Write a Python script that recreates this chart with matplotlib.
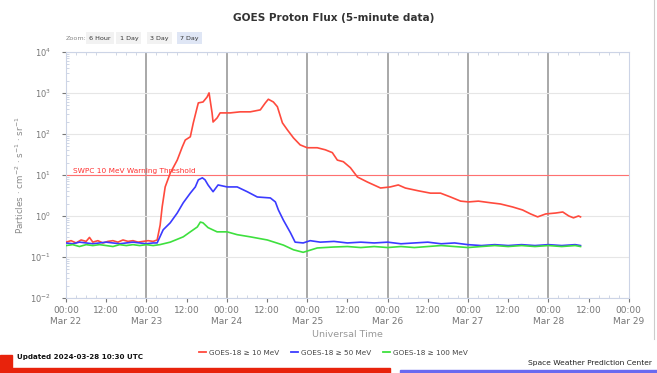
import matplotlib
matplotlib.use('Agg')
import matplotlib.pyplot as plt
from matplotlib.lines import Line2D
from matplotlib.patches import Rectangle
from matplotlib.ticker import MultipleLocator, LogLocator, NullFormatter

# hours since 2024-03-22 00:00 UTC, flux in pfu
red_t = [0, 1.5, 3, 4.5, 6, 7, 8, 9.5, 11, 12.5, 14, 15.5, 17, 18.5, 20, 21.5, 23, 24.5, 26, 27.2,
         28.1, 28.7, 29.6, 31.1, 33.2, 34.7, 35.6, 37.1, 38.0, 39.2,
         39.5, 40.9, 42.1, 42.7, 43.6, 43.9, 45.1, 46.0, 49.0, 52.0,
         55.0, 58.0, 59.5, 60.4, 61.9, 63.1, 64.6, 66.1, 67.9, 69.9,
         72.0, 75.0, 77.4, 79.5, 81.0, 82.8, 84.9, 87.0, 90.0, 93.9,
         96.8, 99.2, 101.3, 105.2, 108.8, 111.8, 114.8, 117.8, 120.2, 123.1,
         126.7, 129.7, 133.3, 136.3, 138.7, 140.8, 143.2, 146.2, 148.3, 150.1,
         151.5, 153.0, 153.6]
red_v = [0.23, 0.25, 0.22, 0.26, 0.24, 0.30, 0.23, 0.25, 0.22, 0.24, 0.25, 0.23, 0.26, 0.24, 0.25, 0.23, 0.24, 0.25, 0.24, 0.26,
         0.6, 1.66, 5.1, 11, 23, 48, 71, 85, 186, 460,
         570, 600, 790, 1000, 325, 195, 245, 325, 325, 345,
         345, 385, 570, 700, 600, 460, 186, 125, 80, 54,
         46, 46, 41, 35, 23, 21, 15, 8.9, 6.7, 4.8,
         5.1, 5.7, 4.8, 4.1, 3.6, 3.6, 2.9, 2.3, 2.2, 2.3,
         2.1, 1.96, 1.66, 1.4, 1.12, 0.95, 1.12, 1.18, 1.25, 1.0,
         0.9, 1.0, 0.95]

blue_t = [0, 2, 4, 6, 8, 10, 12, 14, 16, 18, 20, 22, 24, 26,
          27.2, 29.0, 31.1, 33.2, 35.0, 37.1, 38.6, 39.5, 40.7, 41.5,
          42.4, 43.9, 45.4, 48.1, 51.1, 54.1, 57.1, 61.0, 62.5, 63.4,
          64.9, 67.0, 68.4, 70.8, 72.9, 75.9,
          80, 84, 88, 92, 96, 100, 104, 108, 112, 116, 120, 124, 128, 132,
          136, 140, 144, 148, 152, 153.6]
blue_v = [0.22, 0.21, 0.23, 0.22, 0.21, 0.22, 0.23, 0.22, 0.21, 0.22, 0.23, 0.22, 0.21, 0.22,
          0.22, 0.46, 0.68, 1.18, 2.1, 3.6, 5.1, 7.6, 8.5, 7.6,
          5.7, 3.9, 5.7, 5.1, 5.1, 3.9, 2.9, 2.75, 2.2, 1.4,
          0.79, 0.39, 0.23, 0.22, 0.25, 0.23,
          0.24, 0.22, 0.23, 0.22, 0.23, 0.21, 0.22, 0.23, 0.21, 0.22, 0.20, 0.19, 0.20, 0.19,
          0.20, 0.19, 0.20, 0.19, 0.20, 0.19]

green_t = [0, 2, 4, 6, 8, 10, 12, 14, 16, 18, 20, 22, 24, 26, 28,
           31.1, 35.0, 37.1, 39.2, 40.1, 40.9, 42.4, 45.1, 48.1, 51.1,
           55.0, 60.1, 64.9, 67.9, 70.8, 75.0, 79.8,
           84, 88, 92, 96, 100, 104, 108, 112, 116, 120, 124, 128, 132, 136,
           140, 144, 148, 152, 153.6]
green_v = [0.19, 0.2, 0.18, 0.2, 0.19, 0.2, 0.19, 0.18, 0.2, 0.19, 0.2, 0.19, 0.2, 0.19, 0.2,
           0.23, 0.31, 0.41, 0.54, 0.71, 0.68, 0.52, 0.41, 0.41, 0.35,
           0.31, 0.26, 0.195, 0.15, 0.13, 0.166, 0.175,
           0.18, 0.17, 0.18, 0.17, 0.18, 0.17, 0.18, 0.19, 0.18, 0.17, 0.18, 0.19, 0.18, 0.19,
           0.18, 0.19, 0.18, 0.19, 0.18]

series_labels = ['GOES-18 ≥ 10 MeV', 'GOES-18 ≥ 50 MeV', 'GOES-18 ≥ 100 MeV']
series_colors = ['#ff4a3d', '#3b3bff', '#3ee03e']

x_ticks = [0, 12, 24, 36, 48, 60, 72, 84, 96, 108, 120, 132, 144, 156, 168]
x_labels = ['00:00\nMar 22', '12:00', '00:00\nMar 23', '12:00', '00:00\nMar 24', '12:00',
            '00:00\nMar 25', '12:00', '00:00\nMar 26', '12:00', '00:00\nMar 27', '12:00',
            '00:00\nMar 28', '12:00', '00:00\nMar 29']
y_ticks = [1e-2, 1e-1, 1e0, 1e1, 1e2, 1e3, 1e4]
y_labels = ['$10^{-2}$', '$10^{-1}$', '$10^{0}$', '$10^{1}$', '$10^{2}$', '$10^{3}$', '$10^{4}$']
threshold = 10

grey = '#777777'

fig = plt.figure(figsize=(6.57, 3.73), dpi=100)
ax = fig.add_axes([0.1005, 0.201, 0.8565, 0.660])

ax.set_yscale('log')
ax.set_xlim(x_ticks[0], x_ticks[-1])
ax.set_ylim(y_ticks[0], y_ticks[-1])

# grid: light decades, dark vertical line at each midnight
ax.grid(axis='y', which='major', color='#e6e6e6', lw=0.8)
for t, lab in zip(x_ticks[1:-1], x_labels[1:-1]):
    if lab.startswith('00:00'):
        ax.axvline(t, color='#a8a8a8', lw=1.4, zorder=1)

ax.axhline(threshold, color='#ff7070', lw=0.8, zorder=2)
ax.text(2.1, threshold * 1.08, 'SWPC 10 MeV Warning Threshold', color='#ff3030',
        fontsize=5.3, va='bottom', ha='left')

for t, v, c in zip([red_t, blue_t, green_t], [red_v, blue_v, green_v], series_colors):
    ax.plot(t, v, color=c, lw=1.2, zorder=3)

ax.set_xticks(x_ticks)
ax.set_xticklabels(x_labels)
ax.set_yticks(y_ticks)
ax.set_yticklabels(y_labels)
ax.xaxis.set_minor_locator(MultipleLocator(3))
ax.yaxis.set_minor_locator(LogLocator(base=10, subs=range(2, 10)))
ax.yaxis.set_minor_formatter(NullFormatter())
ax.tick_params(axis='x', which='major', labelsize=6.5, colors=grey, length=3, pad=3)
ax.tick_params(axis='y', which='major', labelsize=6, colors=grey, length=3, pad=8)
ax.tick_params(which='minor', length=2, color='#c8d0e0', direction='in')
ax.tick_params(axis='x', which='minor', top=True)
for sp in ax.spines.values():
    sp.set_color('#ccd4e6')
    sp.set_linewidth(0.8)

ax.set_ylabel('Particles · cm$^{-2}$ · s$^{-1}$ · sr$^{-1}$', fontsize=6.3, color='#888888', labelpad=3)
ax.set_xlabel('Universal Time', fontsize=6.8, color='#999999', labelpad=3)

fig.text(0.508, 0.952, 'GOES Proton Flux (5-minute data)', ha='center', va='center',
         fontsize=7.6, fontweight='bold', color='#333333')

# zoom buttons
fig.text(0.1, 0.898, 'Zoom:', fontsize=4.6, color='#888888', va='center')
for label, xpos, sel in [('6 Hour', 0.135, False), ('1 Day', 0.182, False),
                         ('3 Day', 0.229, False), ('7 Day', 0.274, True)]:
    fig.text(xpos, 0.898, label, fontsize=4.6, color='#333333', va='center',
             bbox=dict(boxstyle='square,pad=0.5', fc='#dfe6f5' if sel else '#f2f2f2', ec='none'))

handles = [Line2D([], [], color=c, lw=1.3) for c in series_colors]
fig.legend(handles, series_labels, loc='center', bbox_to_anchor=(0.508, 0.054), ncol=3,
           frameon=False, fontsize=5.2, handlelength=0.9, columnspacing=1.6, handletextpad=0.5,
           labelcolor='#444444')

# footer
fig.patches.append(Rectangle((0, 0), 12 / 657, 18 / 373, transform=fig.transFigure,
                             color='#e8230c', zorder=5))
fig.patches.append(Rectangle((0, 0), 390 / 657, 5 / 373, transform=fig.transFigure,
                             color='#e8230c', zorder=5))
fig.patches.append(Rectangle((400 / 657, 0), 257 / 657, 3 / 373, transform=fig.transFigure,
                             color='#6a6af0', zorder=5))
fig.text(17 / 657, 1 - 357 / 373, 'Updated 2024-03-28 10:30 UTC', fontsize=5.1,
         fontweight='bold', color='#111111', va='center')
fig.text(652 / 657, 1 - 363 / 373, 'Space Weather Prediction Center', fontsize=5.4,
         color='#222222', va='center', ha='right')
fig.add_artist(Line2D([0.996, 0.996], [0.09, 1.0], transform=fig.transFigure,
                      color='#cccccc', lw=0.8))

fig.savefig('out.png', dpi=100)
